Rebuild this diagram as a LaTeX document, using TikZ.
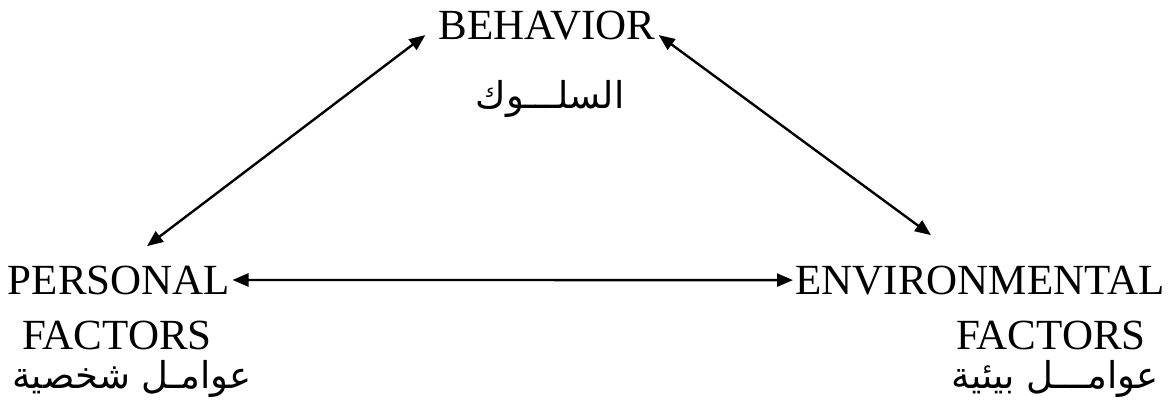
\documentclass[tikz,border=0pt]{standalone}
\usepackage{fontspec}
\setmainfont{Liberation Serif}
\newfontfamily\arabicfont[Script=Arabic]{DejaVu Sans}
\TeXXeTstate=1
\usepackage{tikz}
\usepackage{xcolor}
\usetikzlibrary{arrows.meta}
\definecolor{ink}{HTML}{000000}
\tikzset{
  termtext/.style={anchor=base,inner sep=1pt,text=ink,
                   font=\fontsize{21.5}{24}\selectfont},
  arabtext/.style={anchor=base,inner sep=1pt,text=ink,
                   font=\arabicfont\fontsize{18.5}{22}\selectfont},
  duoarr/.style={{Triangle[length=8pt,width=6.5pt]}-{Triangle[length=8pt,width=6.5pt]},
                 line width=1.2pt,draw=ink}
}
\begin{document}
\begin{tikzpicture}[x=0.5pt,y=0.5pt]
    \path[use as bounding box] (0,0) rectangle (1173,-403);

    \node[termtext] (behavior) at (547,-39) {BEHAVIOR};
    \node[arabtext] (behavar) at (550,-108) {\beginR السلـــوك\endR};

    \node[termtext] (personal) at (119,-294) {PERSONAL};
    \node[termtext] (personalf) at (117,-349) {FACTORS};
    \node[arabtext] (personalar) at (132,-388) {\beginR عوامـل شخصية\endR};

    \node[termtext] (environ) at (980,-294) {ENVIRONMENTAL};
    \node[termtext] (environf) at (1051,-349) {FACTORS};
    \node[arabtext] (environar) at (1055,-388) {\beginR عوامـــل بيئية\endR};

    \draw[duoarr] (personal.east) -- (environ.west);
    \draw[duoarr] ([shift={(28,17)}]personal.north)
      -- ([shift={(-11,7)}]behavior.south west);
    \draw[duoarr] ([shift={(1,7)}]behavior.south east)
      -- ([shift={(-49,28)}]environ.north);
  \end{tikzpicture}
\end{document}
